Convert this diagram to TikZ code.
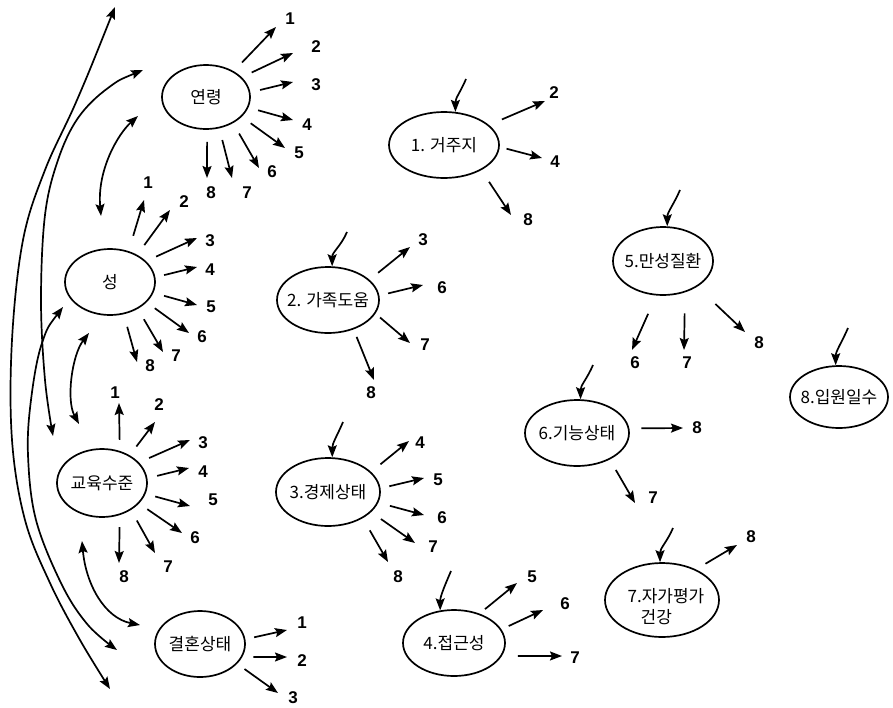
\documentclass[tikz,border=0pt]{standalone}
\usepackage{fontspec}
\setmainfont{Liberation Sans}
\newfontfamily\kr{Noto Sans CJK KR}
\usetikzlibrary{arrows.meta,shapes.geometric}
\newcommand\myarr[6]{%
  \coordinate (#1-e#4) at (#5);
  \node[num] (#1-l#4) at (#6) {#4};
  \draw[arr, shorten <=#3pt] (#1.#2) -- (#1-e#4);
}
\newcommand\myin[3]{%
  \coordinate (#1-in) at (#3);
  \draw[arr] (#1-in) .. controls +(-6,14) and +(0,-14) .. (#1.#2);
}
\begin{document}
\begin{tikzpicture}[x=1pt,y=-1pt,
  ell/.style={draw, ellipse, line width=1.7pt, inner sep=0pt, font=\kr\fontsize{17}{20}\selectfont},
  num/.style={inner sep=0pt, font=\bfseries\fontsize{17}{20}\selectfont},
  arr/.style={line width=1.7pt, -{Stealth[length=12pt,width=9pt,inset=2pt]}},
  dbl/.style={line width=1.7pt, {Stealth[length=12pt,width=9pt,inset=2pt]}-{Stealth[length=12pt,width=9pt,inset=2pt]}},
]
\useasboundingbox (0,0) rectangle (893,707);
\fill[white] (0,0) rectangle (893,707);

% ellipses
\node[ell, minimum width=88pt, minimum height=64pt] (age) at (206,97) {\makebox[0pt]{연령}};
\node[ell, minimum width=90pt, minimum height=66pt] (sex) at (110,282) {\makebox[0pt]{성}};
\node[ell, minimum width=90pt, minimum height=68pt] (edu) at (102,483) {\makebox[0pt]{교육수준}};
\node[ell, minimum width=90pt, minimum height=66pt] (mar) at (200,644) {\makebox[0pt]{결혼상태}};
\node[ell, minimum width=110pt, minimum height=66pt] (n1) at (444,145) {\makebox[0pt]{1. 거주지}};
\node[ell, minimum width=102pt, minimum height=66pt] (n2) at (328,300) {\makebox[0pt]{2. 가족도움}};
\node[ell, minimum width=104pt, minimum height=68pt] (n3) at (328,492) {\makebox[0pt]{3.경제상태}};
\node[ell, minimum width=102pt, minimum height=66pt] (n4) at (454,643) {\makebox[0pt]{4.접근성}};
\node[ell, minimum width=100pt, minimum height=68pt] (n5) at (663,261) {\makebox[0pt]{5.만성질환}};
\node[ell, minimum width=104pt, minimum height=66pt] (n6) at (577,433) {\makebox[0pt]{6.기능상태}};
\node[ell, minimum width=114pt, minimum height=74pt] (n7) at (662,600) {};
\node[inner sep=0pt, align=left, font=\kr\fontsize{17}{21}\selectfont] (n7t) at (666,607) {7.자가평가\\\hspace*{13pt}건강};
\node[ell, minimum width=98pt, minimum height=62pt] (n8) at (839,397) {\makebox[0pt]{8.입원일수}};

% 연령
\myarr{age}{43.4}{12}{1}{276,27}{290,19}
\myarr{age}{29.1}{11}{2}{293,53}{316,47}
\myarr{age}{6.5}{10}{3}{293,82}{316,85}
\myarr{age}{-14.8}{10}{4}{293,120}{307,125}
\myarr{age}{-29.1}{11}{5}{285,148}{299,153}
\myarr{age}{-44.2}{12}{6}{259,168}{272,172}
\myarr{age}{-67.8}{12}{7}{232,178}{247,193}
\myarr{age}{-88.2}{12}{8}{207,178}{211,193}
% 성
\myarr{sex}{59.0}{16}{1}{144,200}{148,183}
\myarr{sex}{45}{12}{2}{170,210}{184,202}
\myarr{sex}{30}{11}{3}{197,238}{210,241}
\myarr{sex}{6.5}{9}{4}{197,267}{210,270}
\myarr{sex}{-14.8}{11}{5}{197,305}{211,307}
\myarr{sex}{-29.1}{10}{6}{189,333}{202,337}
\myarr{sex}{-44.2}{12}{7}{163,352}{176,356}
\myarr{sex}{-67.8}{13}{8}{137,362}{150,366}
% 교육수준
\myarr{edu}{61.6}{11}{1}{119,403}{115,393}
\myarr{edu}{45}{11}{2}{155,422}{159,405}
\myarr{edu}{29.1}{11}{3}{190,440}{203,443}
\myarr{edu}{6.3}{10}{4}{189,468}{203,472}
\myarr{edu}{-14.5}{10}{5}{190,506}{213,500}
\myarr{edu}{-29.1}{10}{6}{182,533}{195,538}
\myarr{edu}{-43.4}{12}{7}{155,553}{168,567}
\myarr{edu}{-61.6}{12}{8}{119,563}{124,577}
% 결혼상태
\myarr{mar}{6.5}{9}{1}{287,630}{302,623}
\myarr{mar}{-17.4}{11}{2}{287,657}{302,661}
\myarr{mar}{-28.1}{9}{3}{278,693}{293,698}
% 1
\myarr{n1}{24.1}{14}{2}{545,101}{554,93}
\myarr{n1}{-2.8}{7}{4}{542,158}{555,162}
\myarr{n1}{-34}{14}{8}{511,215}{528,220}
% 2
\myarr{n2}{26.1}{11}{3}{410,247}{423,240}
\myarr{n2}{5.7}{9}{6}{423,285}{442,288}
\myarr{n2}{-16.1}{6}{7}{410,343}{425,345}
\myarr{n2}{-49.4}{8}{8}{374,380}{371,393}
% 3
\myarr{n3}{25.3}{12}{4}{409,441}{420,443}
\myarr{n3}{4.7}{9}{5}{424,478}{438,480}
\myarr{n3}{-12.9}{12}{6}{424,515}{442,518}
\myarr{n3}{-25.3}{12}{7}{415,543}{433,547}
\myarr{n3}{-37.9}{14}{8}{388,562}{398,577}
% 4
\myarr{n4}{49.5}{7}{5}{517,583}{532,577}
\myarr{n4}{16.5}{8}{6}{543,610}{565,604}
\myarr{n4}{-15.5}{16}{7}{562,656}{575,658}
% 5
\myarr{n5}{-101.9}{20}{6}{632,350}{635,363}
\myarr{n5}{-55.8}{21}{7}{684,350}{687,363}
\myarr{n5}{-37.4}{25}{8}{745,332}{759,343}
% 6
\myarr{n6}{5.6}{12}{8}{683,428}{697,428}
\myarr{n6}{-39.7}{12}{7}{635,503}{653,498}
% 7
\myarr{n7}{42.8}{11}{8}{737,545}{751,537}

% incoming arrows
\myin{n1}{71.6}{466,79}
\myin{n2}{83.1}{347,232}
\myin{n3}{83.3}{343,422}
\myin{n4}{113}{451,571}
\myin{n5}{83.3}{680,190}
\myin{n6}{84.8}{593,365}
\myin{n7}{93.1}{673,528}
\myin{n8}{96.5}{848,328}

% left correlation arcs
\coordinate (a1a) at (101,216); \coordinate (a1b) at (138,116);
\draw[dbl] (a1a) .. controls (97,170) and (118,134) .. (a1b);
\coordinate (a6a) at (89,333); \coordinate (a6b) at (79,424);
\draw[dbl] (a6a) .. controls (72,355) and (66,400) .. (a6b);
\coordinate (a5a) at (82,541); \coordinate (a5b) at (140,625);
\draw[dbl] (a5a) .. controls (86,585) and (105,618) .. (a5b);
\coordinate (a2a) at (143,70); \coordinate (a2b) at (53,436);
\draw[dbl] plot[smooth, tension=0.6] coordinates {(a2a) (108,88) (78,118) (58,160) (45,215) (41,300) (45,380) (a2b)};
\coordinate (a3a) at (115,7); \coordinate (a3b) at (110,689);
\draw[dbl] plot[smooth, tension=0.6] coordinates {(a3a) (77,100) (45,170) (23,240) (12,340) (12,440) (25,520) (50,583) (80,640) (a3b)};
\coordinate (a4a) at (63,307); \coordinate (a4b) at (117,650);
\draw[dbl] plot[smooth, tension=0.6] coordinates {(a4a) (42,343) (31,400) (28,455) (36,520) (62,585) (88,625) (a4b)};
\end{tikzpicture}
\end{document}
